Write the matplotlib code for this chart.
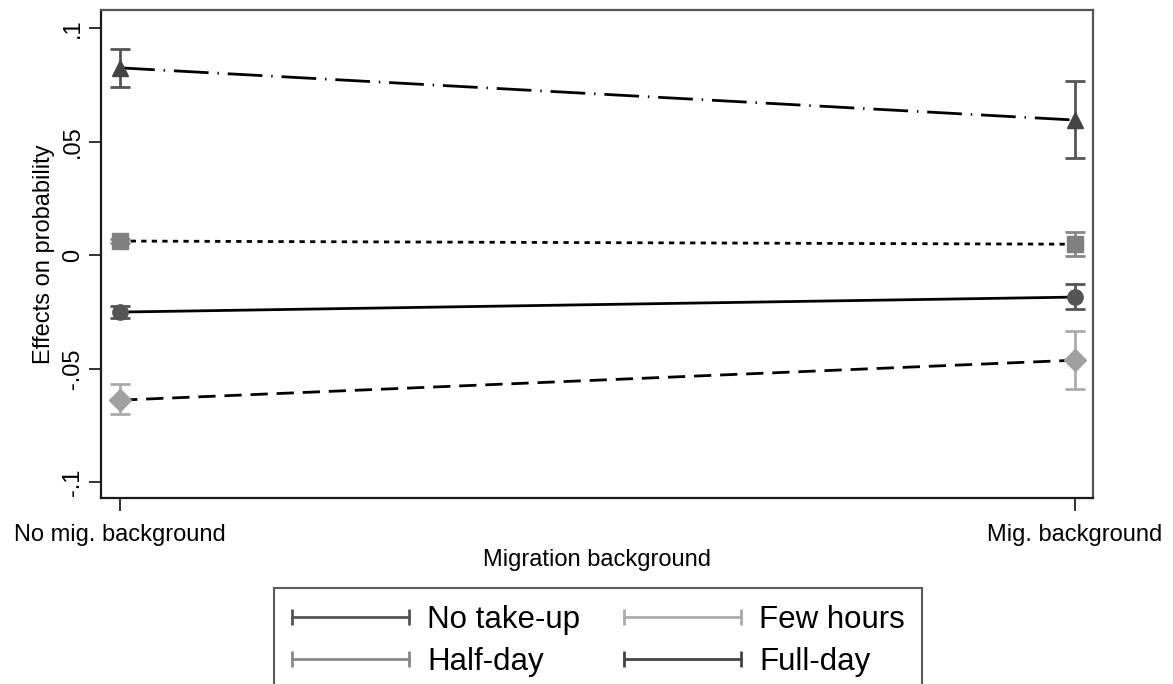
import matplotlib.pyplot as plt
from matplotlib.lines import Line2D
from matplotlib.legend_handler import HandlerLine2D

plt.rcParams['font.family'] = ['Liberation Sans', 'DejaVu Sans']

# Datos
categorias = ['No mig. background', 'Mig. background']
grupos = ['No take-up', 'Few hours', 'Half-day', 'Full-day']

efecto = {
    'No take-up': [-0.0251, -0.0185],
    'Few hours': [-0.0639, -0.0463],
    'Half-day': [0.0062, 0.0048],
    'Full-day': [0.0825, 0.0595],
}
ci_inf = {
    'No take-up': [-0.0278, -0.0238],
    'Few hours': [-0.0700, -0.0590],
    'Half-day': [0.0055, -0.0004],
    'Full-day': [0.0740, 0.0430],
}
ci_sup = {
    'No take-up': [-0.0225, -0.0128],
    'Few hours': [-0.0568, -0.0335],
    'Half-day': [0.0069, 0.0101],
    'Full-day': [0.0907, 0.0767],
}

# Estilos
estilo = {
    'No take-up': dict(marker='o', mcol='#555555', ecol='#555555', ls='-', ms=11),
    'Few hours': dict(marker='D', mcol='#a0a0a0', ecol='#ababab', ls=(0, (6.2, 3.2)), ms=11),
    'Half-day': dict(marker='s', mcol='#808080', ecol='#888888', ls=(0, (1.9, 1.9)), ms=11),
    'Full-day': dict(marker='^', mcol='#444444', ecol='#555555', ls=(0, (12.5, 3.2, 0.5, 3.2)), ms=12),
}

fig = plt.figure(figsize=(11.73, 6.84), dpi=100)
ax = fig.add_axes([0.0861, 0.272, 0.8457, 0.7134])

x = list(range(len(categorias)))
for g in ['Full-day', 'Half-day', 'No take-up', 'Few hours']:
    e = estilo[g]
    err = [[v - lo for v, lo in zip(efecto[g], ci_inf[g])],
           [hi - v for v, hi in zip(efecto[g], ci_sup[g])]]
    ax.plot(x, efecto[g], color='black', lw=2, ls=e['ls'], zorder=2)
    ax.errorbar(x, efecto[g], yerr=err, fmt='none', ecolor=e['ecol'],
                elinewidth=2, capsize=7, capthick=2, zorder=3)
    ax.plot(x, efecto[g], ls='none', marker=e['marker'], ms=e['ms'],
            color=e['mcol'], mec=e['mcol'], zorder=4)

ax.set_xlim(-0.02, 1.019)
ax.set_ylim(-0.107, 0.108)
ax.set_xticks(x)
ax.set_xticklabels(categorias, fontsize=17)
ax.set_yticks([-0.1, -0.05, 0, 0.05, 0.1])
ax.set_yticklabels(['-.1', '-.05', '0', '.05', '.1'], fontsize=17,
                   rotation=90, va='center')
ax.tick_params(axis='both', length=9, width=1.3, color='#222222')
ax.tick_params(axis='x', pad=10)
ax.tick_params(axis='y', pad=3)
ax.set_xlabel('Migration background', fontsize=17, labelpad=2)
ax.set_ylabel('Effects on probability', fontsize=17, labelpad=5)

for s in ['left', 'bottom']:
    ax.spines[s].set_linewidth(1.6)
    ax.spines[s].set_color('#1a1a1a')
for s in ['top', 'right']:
    ax.spines[s].set_linewidth(1.6)
    ax.spines[s].set_color('#555555')

# Leyenda
handles = [Line2D([], [], color=c, lw=2, marker='|', ms=12, mew=2)
           for c in ['#555555', '#888888', '#ababab', '#444444']]
etiquetas = ['No take-up', 'Half-day', 'Few hours', 'Full-day']
leg = fig.legend(handles, etiquetas, loc='upper center', ncol=2,
                 bbox_to_anchor=(0.51, 0.141), numpoints=2, fontsize=22.5,
                 handler_map={Line2D: HandlerLine2D(marker_pad=0)},
                 handlelength=3.75, handletextpad=0.58, columnspacing=1.4,
                 labelspacing=0.4, frameon=True, fancybox=False,
                 borderpad=0.55, borderaxespad=0)
leg.get_frame().set_edgecolor('#333333')
leg.get_frame().set_linewidth(1.5)

fig.savefig('out.png', dpi=100)
